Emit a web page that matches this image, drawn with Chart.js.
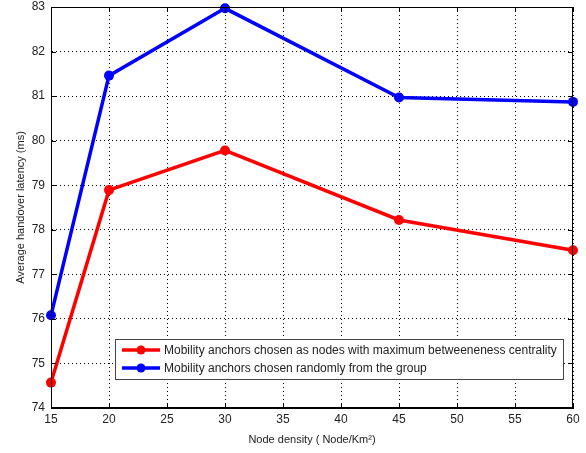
<!DOCTYPE html>
<html>
<head>
<meta charset="utf-8">
<script src="https://cdn.jsdelivr.net/npm/chart.js@4"></script>
<style>
  html, body { margin: 0; padding: 0; background: #fff; }
  #wrap { width: 586px; height: 453px; }
</style>
</head>
<body>
<div id="wrap"><canvas id="myChart" width="586" height="453"></canvas></div>
<script>
// data
var nodeDensity = [15, 20, 30, 45, 60];
var latencyBetweenness = [74.57, 78.89, 79.78, 78.22, 77.54];
var latencyRandom = [76.08, 81.46, 82.97, 80.97, 80.87];
var xTicks = [15, 20, 25, 30, 35, 40, 45, 50, 55, 60];
var yTicks = [74, 75, 76, 77, 78, 79, 80, 81, 82, 83];
var seriesNames = [
    'Mobility anchors chosen as nodes with maximum betweeneness centrality',
    'Mobility anchors chosen randomly from the group'
];

var FONT = 'Liberation Sans, Arial, sans-serif';

function toPoints(vals) {
    return nodeDensity.map(function (x, i) { return { x: x, y: vals[i] }; });
}

// box frame, inward ticks and legend inside the plot (matlab look)
var matlabBox = {
    id: 'matlabBox',
    afterDraw: function (chart) {
        var c = chart.ctx, a = chart.chartArea;
        var xs = chart.scales.x, ys = chart.scales.y;
        c.save();
        c.strokeStyle = '#000';
        c.lineWidth = 1;
        c.strokeRect(a.left + 0.5, a.top + 0.5, a.right - a.left - 1, a.bottom - a.top - 1);
        c.beginPath();
        xTicks.forEach(function (v) {
            var px = Math.round(xs.getPixelForValue(v)) + 0.5;
            c.moveTo(px, a.bottom); c.lineTo(px, a.bottom - 5);
            c.moveTo(px, a.top); c.lineTo(px, a.top + 5);
        });
        yTicks.forEach(function (v) {
            var py = Math.round(ys.getPixelForValue(v)) + 0.5;
            c.moveTo(a.left, py); c.lineTo(a.left + 5, py);
            c.moveTo(a.right, py); c.lineTo(a.right - 5, py);
        });
        c.stroke();

        // legend box
        var bx = 115, by = 339, bw = 448, bh = 40;
        c.fillStyle = '#fff';
        c.fillRect(bx, by, bw, bh);
        c.strokeStyle = '#444';
        c.strokeRect(bx + 0.5, by + 0.5, bw, bh);
        c.font = '12px ' + FONT;
        c.textBaseline = 'middle';
        chart.data.datasets.forEach(function (ds, i) {
            var yy = by + 11 + i * 18;
            c.strokeStyle = ds.borderColor;
            c.lineWidth = 3.5;
            c.beginPath(); c.moveTo(122, yy); c.lineTo(160, yy); c.stroke();
            c.fillStyle = ds.borderColor;
            c.beginPath(); c.arc(141, yy, 4.5, 0, Math.PI * 2); c.fill();
            c.fillStyle = '#222';
            c.fillText(ds.label, 164, yy + 1);
        });
        c.restore();
    }
};

var ctx = document.getElementById('myChart').getContext('2d');
var myChart = new Chart(ctx, {
    type: 'line',
    data: {
        datasets: [{
            label: seriesNames[0],
            data: toPoints(latencyBetweenness),
            borderColor: '#ff0000',
            backgroundColor: '#ff0000',
            borderWidth: 3.5,
            pointRadius: 5,
            pointBorderWidth: 0,
            tension: 0
        }, {
            label: seriesNames[1],
            data: toPoints(latencyRandom),
            borderColor: '#0000ff',
            backgroundColor: '#0000ff',
            borderWidth: 3.5,
            pointRadius: 5,
            pointBorderWidth: 0,
            tension: 0
        }]
    },
    options: {
        responsive: false,
        animation: false,
        clip: false,
        layout: { padding: { top: 7, right: 13, left: 14, bottom: 6 } },
        plugins: { legend: { display: false }, tooltip: { enabled: false } },
        scales: {
            x: {
                type: 'linear',
                min: 15, max: 60,
                afterBuildTicks: function (s) { s.ticks = xTicks.map(function (v) { return { value: v }; }); },
                afterFit: function (s) { s.height = 39; s.paddingLeft = 0; s.paddingRight = 0; },
                grid: { color: '#000', lineWidth: 1, drawTicks: false },
                border: { display: true, color: '#000', dash: [1, 3] },
                ticks: { color: '#222', font: { family: FONT, size: 12 }, padding: 4, maxRotation: 0 },
                title: {
                    display: true,
                    text: 'Node density ( Node/Km\u00b2)',
                    color: '#222',
                    font: { family: FONT, size: 11 },
                    padding: { top: 4, bottom: 0 }
                }
            },
            y: {
                type: 'linear',
                min: 74, max: 83,
                afterBuildTicks: function (s) { s.ticks = yTicks.map(function (v) { return { value: v }; }); },
                afterFit: function (s) { s.width = 37; s.paddingTop = 0; s.paddingBottom = 0; },
                grid: { color: '#000', lineWidth: 1, drawTicks: false },
                border: { display: true, color: '#000', dash: [1, 3] },
                ticks: { color: '#222', font: { family: FONT, size: 12 }, padding: 6 },
                title: {
                    display: true,
                    text: 'Average handover latency (ms)',
                    color: '#222',
                    font: { family: FONT, size: 11 },
                    padding: { top: 0, bottom: 4 }
                }
            }
        }
    },
    plugins: [matlabBox]
});
</script>
</body>
</html>
